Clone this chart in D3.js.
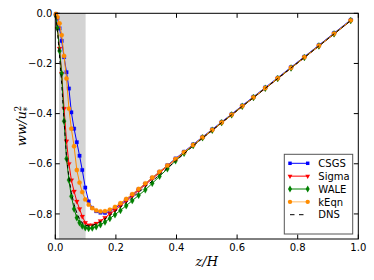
<!DOCTYPE html>
<html>
<head>
<meta charset="utf-8">
<script src="https://cdn.jsdelivr.net/npm/d3@7"></script>
<style>
body { margin: 0; background: #fff; }
svg { display: block; font-family: "DejaVu Sans", sans-serif; }
</style>
</head>
<body>
<div id="chart-area"></div>
<script>
// z/H grid of the LES profiles
var zH = [0.002, 0.007, 0.014, 0.021, 0.029, 0.037, 0.045, 0.053, 0.062, 0.071,
  0.080, 0.089, 0.099, 0.110, 0.122, 0.135, 0.149, 0.164,
  0.180, 0.197, 0.215, 0.234, 0.254, 0.275, 0.297, 0.320, 0.344, 0.370,
  0.397, 0.425, 0.455, 0.486, 0.518, 0.549, 0.582, 0.617, 0.654, 0.693,
  0.734, 0.778, 0.822, 0.870, 0.920, 0.975];

var csgs = [-0.003, -0.02, -0.06, -0.11, -0.175, -0.235, -0.30, -0.395, -0.46, -0.514,
  -0.568, -0.625, -0.695, -0.750, -0.776, -0.789, -0.795, -0.796,
  -0.790, -0.778, -0.762, -0.744, -0.724, -0.702, -0.680, -0.656, -0.632, -0.606,
  -0.579, -0.552, -0.523, -0.493, -0.463, -0.433, -0.402, -0.368, -0.333, -0.296,
  -0.257, -0.215, -0.173, -0.127, -0.079, -0.026];

var sigma = [-0.01, -0.06, -0.14, -0.24, -0.38, -0.51, -0.60, -0.665, -0.71, -0.75,
  -0.78, -0.81, -0.835, -0.845, -0.845, -0.838, -0.828, -0.815,
  -0.800, -0.785, -0.767, -0.748, -0.728, -0.706, -0.684, -0.660, -0.636, -0.610,
  -0.583, -0.556, -0.527, -0.497, -0.467, -0.437, -0.406, -0.372, -0.337, -0.300,
  -0.261, -0.219, -0.177, -0.131, -0.083, -0.030];

var wale = [-0.01, -0.06, -0.15, -0.24, -0.43, -0.58, -0.665, -0.73, -0.78, -0.815,
  -0.835, -0.848, -0.855, -0.858, -0.856, -0.851, -0.843, -0.832,
  -0.818, -0.803, -0.786, -0.767, -0.747, -0.726, -0.704, -0.678, -0.650, -0.620,
  -0.588, -0.558, -0.527, -0.496, -0.466, -0.436, -0.405, -0.371, -0.336, -0.299,
  -0.260, -0.218, -0.176, -0.130, -0.082, -0.029];

var keqn = [-0.003, -0.015, -0.04, -0.087, -0.17, -0.26, -0.38, -0.46, -0.53, -0.625,
  -0.675, -0.713, -0.742, -0.763, -0.777, -0.786, -0.790, -0.789,
  -0.783, -0.772, -0.757, -0.740, -0.721, -0.700, -0.678, -0.655, -0.632, -0.607,
  -0.581, -0.554, -0.525, -0.495, -0.465, -0.435, -0.404, -0.370, -0.335, -0.298,
  -0.259, -0.217, -0.175, -0.129, -0.081, -0.028];

var dns = [-0.01, -0.07, -0.17, -0.28, -0.43, -0.57, -0.655, -0.715, -0.762, -0.796,
  -0.82, -0.836, -0.845, -0.848, -0.846, -0.840, -0.831, -0.820,
  -0.806, -0.790, -0.773, -0.755, -0.735, -0.714, -0.692, -0.669, -0.644, -0.617,
  -0.589, -0.560, -0.529, -0.498, -0.467, -0.436, -0.405, -0.371, -0.336, -0.299,
  -0.260, -0.218, -0.176, -0.130, -0.082, -0.029];

var shade = [0.0125, 0.1];
var xTicks = [0, 0.2, 0.4, 0.6, 0.8, 1.0];
var yTicks = [0, -0.2, -0.4, -0.6, -0.8];

var width = 374, height = 280;
var padL = 55.3, padR = 358.3, padT = 13.3, padB = 239;

var svg = d3.select("#chart-area").append("svg")
    .attr("width", width)
    .attr("height", height);

var x = d3.scaleLinear().domain([0, 1]).range([padL, padR]);
var y = d3.scaleLinear().domain([-0.9, 0]).range([padB, padT]);

// grey band near the wall
svg.append("rect")
    .attr("x", x(shade[0]))
    .attr("y", padT)
    .attr("width", x(shade[1]) - x(shade[0]))
    .attr("height", padB - padT)
    .attr("fill", "#d3d3d3");

var series = [
  { name: "CSGS", vals: csgs, color: "#0000ff", sym: d3.symbolSquare, size: 12, rot: 0 },
  { name: "Sigma", vals: sigma, color: "#ff0000", sym: d3.symbolTriangle, size: 10, rot: 180 },
  { name: "WALE", vals: wale, color: "#008000", sym: d3.symbolDiamond, size: 14, rot: 0 },
  { name: "kEqn", vals: keqn, color: "#ff8c00", sym: d3.symbolCircle, size: 15, rot: 0 }
];

var line = d3.line()
    .x(function(d) { return x(d[0]); })
    .y(function(d) { return y(d[1]); });

var plot = svg.append("g");

series.forEach(function(s) {
  var pts = zH.map(function(z, i) { return [z, s.vals[i]]; });
  plot.append("path")
      .attr("d", line(pts))
      .attr("fill", "none")
      .attr("stroke", s.color)
      .attr("stroke-width", 1);
  plot.selectAll(null)
      .data(pts)
      .enter().append("path")
      .attr("d", d3.symbol().type(s.sym).size(s.size))
      .attr("transform", function(d) {
        return "translate(" + x(d[0]) + "," + y(d[1]) + ") rotate(" + s.rot + ")";
      })
      .attr("fill", s.color)
      .attr("stroke", s.color)
      .attr("stroke-opacity", 0.5)
      .attr("stroke-width", 0.5);
});

// DNS
plot.append("path")
    .attr("d", line(zH.map(function(z, i) { return [z, dns[i]]; })))
    .attr("fill", "none")
    .attr("stroke", "#000")
    .attr("stroke-width", 1)
    .attr("stroke-dasharray", "3.5,3");

// frame
svg.append("rect")
    .attr("x", padL)
    .attr("y", padT)
    .attr("width", padR - padL)
    .attr("height", padB - padT)
    .attr("fill", "none")
    .attr("stroke", "#000")
    .attr("stroke-width", 1);

var fmt = function(v) { return d3.format(".1f")(v).replace("-", "\u2212"); };

// x ticks (inward, top and bottom)
xTicks.forEach(function(t) {
  svg.append("line").attr("x1", x(t)).attr("x2", x(t))
      .attr("y1", padB).attr("y2", padB - 4.5).attr("stroke", "#000");
  svg.append("line").attr("x1", x(t)).attr("x2", x(t))
      .attr("y1", padT).attr("y2", padT + 4.5).attr("stroke", "#000");
  svg.append("text")
      .attr("x", x(t))
      .attr("y", padB + 11.5)
      .attr("text-anchor", "middle")
      .attr("font-size", 10)
      .text(fmt(t));
});

// y ticks (inward, left and right)
yTicks.forEach(function(t) {
  svg.append("line").attr("x1", padL).attr("x2", padL + 4.5)
      .attr("y1", y(t)).attr("y2", y(t)).attr("stroke", "#000");
  svg.append("line").attr("x1", padR).attr("x2", padR - 4.5)
      .attr("y1", y(t)).attr("y2", y(t)).attr("stroke", "#000");
  svg.append("text")
      .attr("x", padL - 3)
      .attr("y", y(t) + 3.6)
      .attr("text-anchor", "end")
      .attr("font-size", 10)
      .text(fmt(t));
});

// axis labels
svg.append("text")
    .attr("x", (padL + padR) / 2)
    .attr("y", 266)
    .attr("text-anchor", "middle")
    .attr("font-family", "DejaVu Serif, serif")
    .attr("font-style", "italic")
    .attr("font-size", 13)
    .text("z/H");

var yl = svg.append("text")
    .attr("transform", "translate(26,126) rotate(-90)")
    .attr("text-anchor", "middle")
    .attr("font-family", "DejaVu Serif, serif")
    .attr("font-style", "italic")
    .attr("font-size", 13);
yl.append("tspan").text("ww/u");
yl.append("tspan").attr("dy", -5.5).attr("font-size", 8.5).attr("font-style", "normal").text("2");
yl.append("tspan").attr("dx", -5.5).attr("dy", 9).attr("font-size", 8.5).attr("font-style", "normal").text("*");

// legend
var lg = svg.append("g");
lg.append("rect")
    .attr("x", 284.3)
    .attr("y", 154.3)
    .attr("width", 68.4)
    .attr("height", 79.7)
    .attr("fill", "#fff")
    .attr("stroke", "#555")
    .attr("stroke-width", 1);

var legendItems = series.concat([{ name: "DNS", color: "#000", dash: true }]);
legendItems.forEach(function(s, i) {
  var ly = 163.3 + i * 12.85;
  lg.append("line")
      .attr("x1", 290).attr("x2", 307.7)
      .attr("y1", ly).attr("y2", ly)
      .attr("stroke", s.color)
      .attr("stroke-width", 1)
      .attr("stroke-dasharray", s.dash ? "4.5,4.5" : null)
      .attr("stroke-opacity", s.name === "kEqn" ? 0.6 : 1);
  if (!s.dash) {
    [290, 307.7].forEach(function(lx) {
      lg.append("path")
          .attr("d", d3.symbol().type(s.sym).size(s.size))
          .attr("transform", "translate(" + lx + "," + ly + ") rotate(" + s.rot + ")")
          .attr("fill", s.color);
    });
  }
  lg.append("text")
      .attr("x", 318.3)
      .attr("y", ly + 3.7)
      .attr("font-size", 10)
      .text(s.name);
});
</script>
</body>
</html>
